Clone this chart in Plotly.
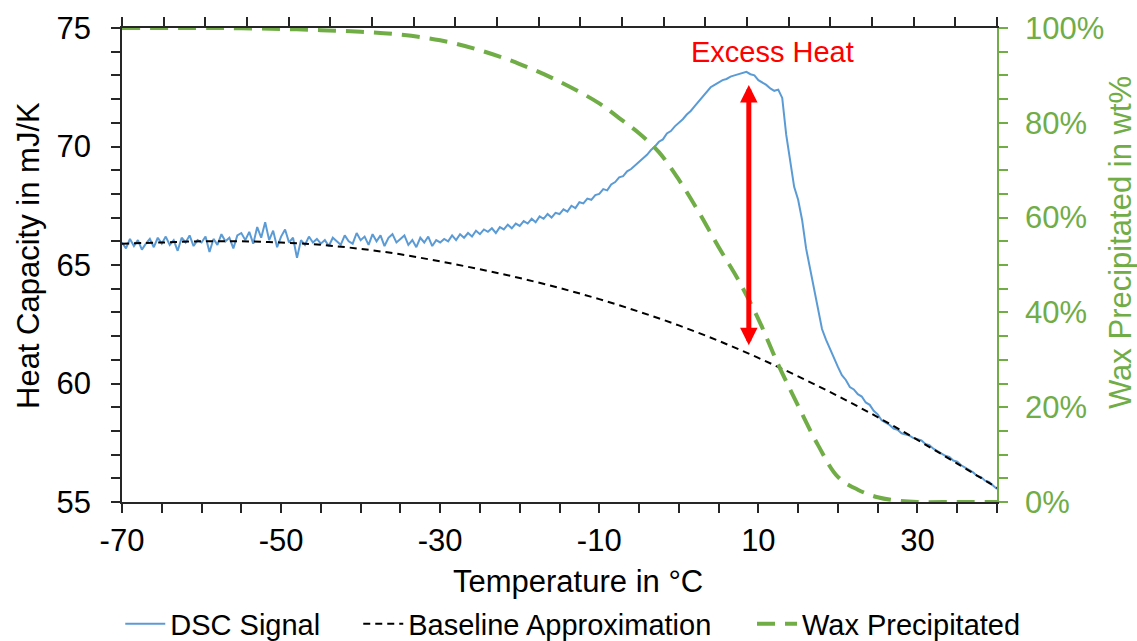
import plotly.graph_objects as go

# ---------------- data ----------------
# DSC signal, temperature grid -70 .. 40 in 0.5 °C steps
dsc_t_start = -70.0
dsc_t_step = 0.5
dsc_signal = [
    65.95, 65.70, 66.10, 65.80, 66.05, 65.65, 65.90, 66.10, 65.75, 66.15,
    65.90, 66.20, 65.85, 66.05, 65.60, 66.15, 65.95, 66.25, 65.80, 66.05,
    65.95, 66.20, 65.55, 66.10, 65.85, 66.30, 66.00, 66.15, 65.70, 66.25,
    66.35, 66.05, 66.40, 65.90, 66.60, 66.15, 66.80, 66.05, 66.45, 65.75,
    66.20, 66.50, 65.95, 66.15, 65.30, 66.05, 65.85, 66.20, 65.95, 66.10,
    65.90, 66.05, 65.80, 66.15, 66.00, 65.85, 66.25, 66.00, 65.90, 66.35,
    66.05, 66.20, 65.85, 66.30, 66.00, 66.25, 65.80, 66.15, 66.30, 65.95,
    66.10, 66.25, 65.85, 66.05, 65.75, 66.15, 65.95, 66.20, 65.80, 66.05,
    65.95, 66.10, 66.00, 66.25, 66.05, 66.30, 66.15, 66.35, 66.20, 66.45,
    66.30, 66.50, 66.40, 66.55, 66.35, 66.60, 66.50, 66.70, 66.55, 66.75,
    66.65, 66.85, 66.75, 66.95, 66.80, 67.05, 66.95, 67.15, 67.00, 67.20,
    67.15, 67.35, 67.25, 67.50, 67.40, 67.65, 67.60, 67.80, 67.75, 67.95,
    68.00, 68.20, 68.15, 68.40, 68.50, 68.70, 68.75, 68.95, 69.05, 69.20,
    69.35, 69.50, 69.65, 69.85, 70.00, 70.20, 70.30, 70.55, 70.65, 70.85,
    71.00, 71.15, 71.35, 71.50, 71.70, 71.90, 72.10, 72.30, 72.50, 72.60,
    72.70, 72.80, 72.85, 72.95, 73.00, 73.05, 73.10, 73.15, 73.05, 73.00,
    72.80, 72.70, 72.60, 72.45, 72.35, 72.40, 72.05, 70.50, 69.30, 68.30,
    67.75, 66.90, 65.70, 64.85, 63.95, 63.10, 62.30, 61.85, 61.45, 61.10,
    60.70, 60.35, 60.15, 59.85, 59.75, 59.55, 59.45, 59.20, 59.10, 58.85,
    58.70, 58.45, 58.35, 58.25, 58.10, 58.05, 57.90, 57.85, 57.80, 57.70,
    57.65, 57.60, 57.45, 57.40, 57.25, 57.15, 57.05, 56.95, 56.90, 56.75,
    56.70, 56.55, 56.45, 56.35, 56.25, 56.10, 56.05, 55.90, 55.85, 55.70,
    55.55,
]
dsc_temp = [dsc_t_start + dsc_t_step * i for i in range(len(dsc_signal))]

baseline_temp = [-70, -65, -60, -55, -50, -45, -40, -35, -30, -25, -20, -15,
                 -10, -5, 0, 5, 10, 15, 20, 25, 30, 35, 40]
baseline_val = [65.90, 65.95, 66.00, 66.00, 65.95, 65.85, 65.68, 65.45, 65.15,
                64.82, 64.45, 64.03, 63.56, 63.03, 62.45, 61.80, 61.08, 60.30,
                59.47, 58.58, 57.62, 56.62, 55.60]

wax_temp = [-70, -60, -55, -50, -45, -40, -35, -30, -25, -20, -15, -10, -7.5,
            -5, -2.5, 0, 2.5, 5, 7.5, 10, 12.5, 15, 17.5, 20, 22.5, 25, 27.5,
            30, 35, 40]
wax_pct = [100, 100, 99.95, 99.8, 99.55, 99.2, 98.6, 97.4, 95.3, 92.4, 88.7,
           84.1, 81.0, 77.8, 73.8, 68.0, 61.2, 53.8, 46.8, 38.6, 29.0, 20.3,
           12.0, 5.3, 2.6, 1.0, 0.3, 0.0, 0.0, 0.0]

x_tickvals = [-70, -50, -30, -10, 10, 30]
x_ticktext = ["-70", "-50", "-30", "-10", "10", "30"]

excess_arrow_t = 8.8
excess_arrow_top = 72.6
excess_arrow_bottom = 61.55

# ---------------- styling ----------------
FONT = "Liberation Sans, Arial, sans-serif"
GREEN = "#70AD47"
BLUE = "#5B9BD5"
AX = "#262626"

fig = go.Figure()
fig.add_trace(go.Scatter(x=dsc_temp, y=dsc_signal, mode="lines",
                         line=dict(color=BLUE, width=2),
                         name="DSC Signal", legend="legend"))
fig.add_trace(go.Scatter(x=baseline_temp, y=baseline_val, mode="lines",
                         line=dict(color="black", width=2, dash="7px,5px",
                                   shape="spline"),
                         name="Baseline Approximation", legend="legend2"))
fig.add_trace(go.Scatter(x=wax_temp, y=wax_pct, mode="lines", yaxis="y2",
                         line=dict(color=GREEN, width=4, dash="18px,10px",
                                   shape="spline"),
                         name="Wax Precipitated", legend="legend3"))
# top axis carrier (no visible marks)
fig.add_trace(go.Scatter(x=[None], y=[None], xaxis="x2", showlegend=False,
                         hoverinfo="skip"))

tickfont = dict(family=FONT, size=31, color="black")

fig.update_layout(
    width=1137, height=641,
    margin=dict(l=122, r=140, t=28, b=139, autoexpand=False),
    paper_bgcolor="white", plot_bgcolor="white",
    font=dict(family=FONT, color="black"),
    xaxis=dict(range=[-70, 40], tickvals=x_tickvals, ticktext=x_ticktext,
               ticks="outside", automargin=False,
               ticklen=9, tickwidth=1.5, tickcolor=AX, showline=True,
               linecolor=AX, linewidth=1.5, showgrid=False, zeroline=False,
               tickfont=tickfont, ticklabelstandoff=1,
               minor=dict(tick0=-70, dtick=5, ticks="outside", ticklen=9,
                          tickwidth=1.5, tickcolor=AX, showgrid=False)),
    xaxis2=dict(overlaying="x", side="top", range=[0, 21], dtick=1,
                ticks="outside", ticklen=9, tickwidth=1.5, tickcolor=AX,
                showline=True, linecolor=AX, linewidth=1.5, automargin=False,
                showticklabels=False, showgrid=False, zeroline=False),
    yaxis=dict(range=[55, 75], dtick=5, ticks="outside", ticklen=9,
               tickwidth=1.5, tickcolor=AX, showline=True, linecolor=AX,
               linewidth=1.5, showgrid=False, zeroline=False, automargin=False,
               tickfont=tickfont, ticklabelstandoff=14,
               minor=dict(dtick=1, ticks="outside", ticklen=9, tickwidth=1.5,
                          tickcolor=AX, showgrid=False)),
    yaxis2=dict(range=[0, 100], dtick=20, ticksuffix="%", overlaying="y",
                side="right", ticks="outside", ticklen=9, tickwidth=1.5,
                tickcolor=GREEN, showline=True, linecolor=GREEN, linewidth=1.5,
                showgrid=False, zeroline=False, ticklabelstandoff=11,
                automargin=False,
                tickfont=dict(family=FONT, size=31, color=GREEN),
                minor=dict(dtick=5, ticks="outside", ticklen=9, tickwidth=1.5,
                           tickcolor=GREEN, showgrid=False)),
    legend=dict(orientation="h", x=-0.002, xanchor="left", y=-0.257,
                yanchor="middle", font=dict(family=FONT, size=29),
                bgcolor="rgba(0,0,0,0)", itemwidth=40),
    legend2=dict(orientation="h", x=0.27, xanchor="left", y=-0.257,
                 yanchor="middle", font=dict(family=FONT, size=29),
                 bgcolor="rgba(0,0,0,0)", itemwidth=40),
    legend3=dict(orientation="h", x=0.72, xanchor="left", y=-0.257,
                 yanchor="middle", font=dict(family=FONT, size=29),
                 bgcolor="rgba(0,0,0,0)", itemwidth=40),
    showlegend=True,
)

annotations = [
    # double-headed arrow
    dict(x=excess_arrow_t, y=excess_arrow_top, ax=excess_arrow_t,
         ay=excess_arrow_bottom, xref="x", yref="y", axref="x", ayref="y",
         text="", showarrow=True, arrowhead=2, arrowside="end+start",
         arrowsize=0.7, arrowwidth=5, arrowcolor="#FF0000"),
    dict(x=11.8, y=74.0, xref="x", yref="y", text="Excess Heat",
         xanchor="center", yanchor="middle",
         showarrow=False, font=dict(family=FONT, size=29, color="#FF0000")),
    dict(x=(28 - 122) / 875, y=(502 - 256) / 474, xref="paper", yref="paper",
         xanchor="center", yanchor="middle",
         text="Heat Capacity in mJ/K", textangle=-90, showarrow=False,
         font=dict(family=FONT, size=31, color="black")),
    dict(x=(1120 - 122) / 875, y=(502 - 243) / 474, xref="paper", yref="paper",
         xanchor="center", yanchor="middle",
         text="Wax Precipitated in wt%", textangle=-90, showarrow=False,
         font=dict(family=FONT, size=31, color=GREEN)),
    dict(x=(578 - 122) / 875, y=(502 - 581) / 474, xref="paper", yref="paper",
         xanchor="center", yanchor="middle",
         text="Temperature in °C", showarrow=False,
         font=dict(family=FONT, size=31, color="black")),
]
fig.update_layout(annotations=annotations)

fig.write_html("out.html")
